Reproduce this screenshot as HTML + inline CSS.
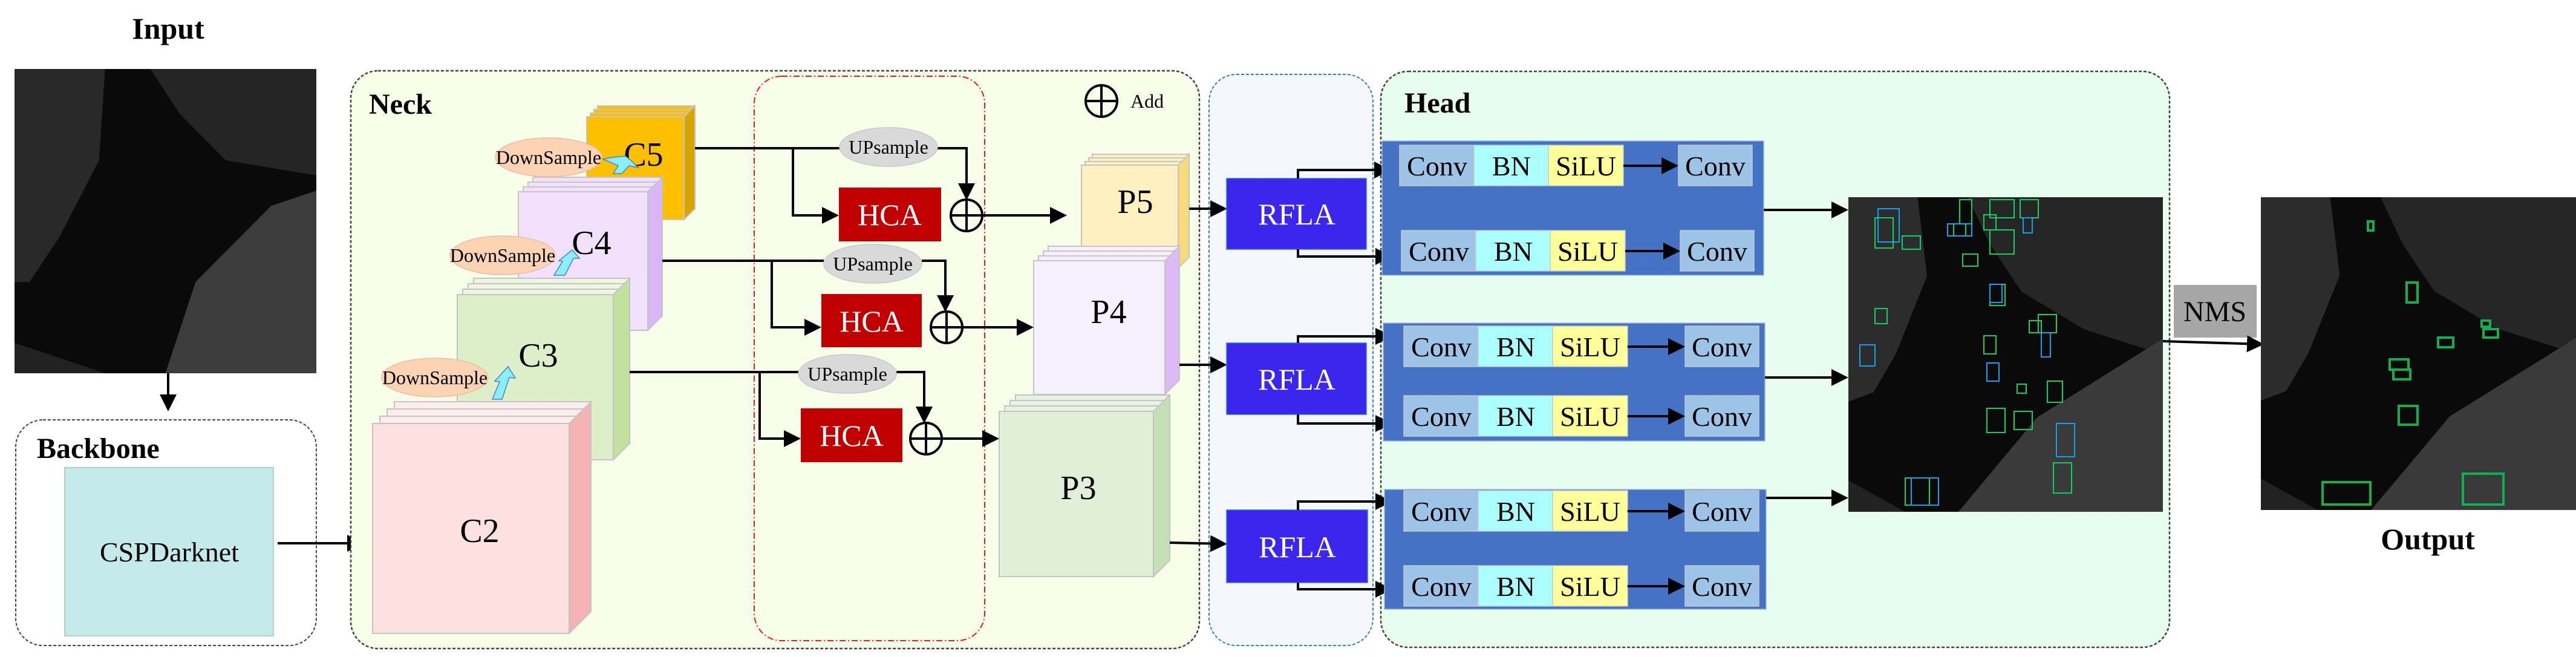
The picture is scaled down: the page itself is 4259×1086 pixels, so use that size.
<!DOCTYPE html>
<html><head><meta charset="utf-8"><style>
html,body{margin:0;padding:0;background:#fff;}
svg{display:block;}
text{font-family:"Liberation Serif",serif;}
</style></head><body>
<svg width="4259" height="1086" viewBox="0 0 4259 1086" xmlns="http://www.w3.org/2000/svg">
<defs>
<marker id="ah" markerWidth="7" markerHeight="7" refX="6" refY="3.5" orient="auto" markerUnits="strokeWidth">
<path d="M0,0 L7,3.5 L0,7 Z" fill="#000"/></marker>
<filter id="spk" x="0" y="0" width="1" height="1">
<feTurbulence type="fractalNoise" baseFrequency="0.35" numOctaves="1" seed="3" result="n"/>
<feColorMatrix in="n" type="matrix" values="0 0 0 0 0.85  0 0 0 0 0.85  0 0 0 0 0.85  3 3 3 0 -4.6" result="s"/>
<feComposite in="s" in2="SourceGraphic" operator="in" result="c"/>
<feMerge><feMergeNode in="SourceGraphic"/><feMergeNode in="c"/></feMerge>
</filter>
<g id="scene">
<rect x="0" y="0" width="1" height="1" fill="#0a0a0a"/>
<polygon points="0,0 0.22,0 0.25,0.25 0.15,0.5 0.08,0.62 0,0.65" fill="#2c2c2c"/>
<polygon points="0.38,0 1,0 1,0.5 0.75,0.42 0.55,0.3 0.45,0.15" fill="#262626"/>
<polygon points="0.35,1 0.6,0.7 1,0.45 1,1" fill="#3a3a3a"/>
<polygon points="0,0.9 0.18,1 0,1" fill="#222"/>
</g>
</defs>

<!-- Input -->
<text x="278" y="64" font-size="50" font-weight="bold" text-anchor="middle">Input</text>
<g transform="translate(24,114) scale(499,503)">
<rect width="1" height="1" fill="#0a0a0a"/>
<polygon points="0,0 0.3,0 0.28,0.3 0.15,0.55 0.05,0.7 0,0.7" fill="#292929"/>
<polygon points="0.45,0 1,0 1,0.35 0.7,0.3 0.55,0.15" fill="#252525"/>
<polygon points="0.5,1 0.6,0.7 0.85,0.45 1,0.4 1,1" fill="#3c3c3c"/>
<polygon points="0,0.9 0.3,1 0,1" fill="#222"/>
</g>
<line x1="278" y1="617" x2="278" y2="676" stroke="#000" stroke-width="4" marker-end="url(#ah)"/>

<!-- Backbone -->
<rect x="26" y="694" width="497" height="373" rx="45" fill="#fff" stroke="#444" stroke-width="2" stroke-dasharray="5,3"/>
<text x="61" y="757" font-size="48" font-weight="bold">Backbone</text>
<rect x="107" y="773" width="345" height="278" fill="#c5eaea" stroke="#b0d0d0" stroke-width="2"/>
<text x="280" y="928" font-size="46" text-anchor="middle">CSPDarknet</text>
<line x1="459" y1="898" x2="598" y2="898" stroke="#000" stroke-width="4" marker-end="url(#ah)"/>

<!-- Neck -->
<rect x="580" y="117" width="1403" height="955" rx="45" fill="#f8fdea" stroke="#444" stroke-width="2.5" stroke-dasharray="5,3"/>
<text x="610" y="188" font-size="48" font-weight="bold">Neck</text>
<rect x="1247" y="126" width="381" height="933" rx="45" fill="none" stroke="#e02020" stroke-width="2" stroke-dasharray="10,4,2,4"/>
<circle cx="1821" cy="167" r="26" fill="none" stroke="#000" stroke-width="4"/>
<line x1="1795" y1="167" x2="1847" y2="167" stroke="#000" stroke-width="4"/>
<line x1="1821" y1="141" x2="1821" y2="193" stroke="#000" stroke-width="4"/>
<text x="1869" y="178" font-size="32">Add</text>

<!-- RFLA region -->
<rect x="1999" y="123" width="271" height="944" rx="45" fill="#f5f6fe" stroke="#3080d0" stroke-width="2" stroke-dasharray="5,3"/>
<!-- Head -->
<rect x="2283" y="118" width="1304" height="952" rx="45" fill="#e8fdee" stroke="#444" stroke-width="2.5" stroke-dasharray="5,3"/>
<text x="2322" y="186" font-size="48" font-weight="bold">Head</text>

<!-- stacks -->
<g stroke="#c4c4c4" stroke-width="2">
<rect x="988" y="175" width="161" height="170" fill="#fdc000"/><rect x="982" y="181" width="161" height="170" fill="#fdc000"/><rect x="976" y="187" width="161" height="170" fill="#fdc000"/>
<polygon points="1131,193 1149,175 1149,345 1131,363" fill="#d9a300"/>
<rect x="970" y="193" width="161" height="170" fill="#fdc000"/>
<rect x="881" y="293" width="214" height="229" fill="#f1e1fd"/><rect x="873" y="301" width="214" height="229" fill="#f1e1fd"/><rect x="865" y="309" width="214" height="229" fill="#f1e1fd"/>
<polygon points="1071,317 1095,293 1095,522 1071,546" fill="#dab6f6"/>
<rect x="857" y="317" width="214" height="229" fill="#f1e1fd"/>
<rect x="783" y="460" width="258" height="273" fill="#ecf6e2"/><rect x="774" y="469" width="258" height="273" fill="#ecf6e2"/><rect x="765" y="478" width="258" height="273" fill="#ecf6e2"/>
<polygon points="1014,487 1041,460 1041,733 1014,760" fill="#c3e19d"/>
<rect x="756" y="487" width="258" height="273" fill="#ddefc8"/>
<rect x="652" y="664" width="325" height="347" fill="#fdecec"/><rect x="640" y="676" width="325" height="347" fill="#fdecec"/><rect x="628" y="688" width="325" height="347" fill="#fdecec"/>
<polygon points="941,700 977,664 977,1011 941,1047" fill="#f4b3b3"/>
<rect x="616" y="700" width="325" height="347" fill="#fde1e1"/>
<rect x="1806" y="255" width="160" height="170" fill="#fff0c1"/><rect x="1800" y="261" width="160" height="170" fill="#fff0c1"/><rect x="1794" y="267" width="160" height="170" fill="#fff0c1"/>
<polygon points="1948,273 1966,255 1966,425 1948,443" fill="#fbd87a"/>
<rect x="1788" y="273" width="160" height="170" fill="#fff0c1"/>
<rect x="1733" y="407" width="217" height="221" fill="#f6effd"/><rect x="1725" y="415" width="217" height="221" fill="#f6effd"/><rect x="1717" y="423" width="217" height="221" fill="#f6effd"/>
<polygon points="1926,431 1950,407 1950,628 1926,652" fill="#dcbaf6"/>
<rect x="1709" y="431" width="217" height="221" fill="#f6effd"/>
<rect x="1679" y="653" width="255" height="273" fill="#e8f2e0"/><rect x="1670" y="662" width="255" height="273" fill="#e8f2e0"/><rect x="1661" y="671" width="255" height="273" fill="#e8f2e0"/>
<polygon points="1907,680 1934,653 1934,926 1907,953" fill="#c5e0b4"/>
<rect x="1652" y="680" width="255" height="273" fill="#e2efd8"/>
</g>
<g font-size="56" text-anchor="middle">
<text x="1064" y="274">C5</text><text x="978" y="420">C4</text><text x="890" y="606">C3</text><text x="793" y="896">C2</text>
<text x="1877" y="352">P5</text><text x="1833" y="534">P4</text><text x="1783" y="825">P3</text>
</g>

<g fill="#fad4b4" stroke="#e8c0a0" stroke-width="1.5">
<ellipse cx="907" cy="260" rx="88" ry="32"/><ellipse cx="831" cy="422" rx="87" ry="32"/><ellipse cx="719" cy="624" rx="88" ry="32"/>
</g>
<g font-size="32" text-anchor="middle">
<text x="907" y="271">DownSample</text><text x="831" y="433">DownSample</text><text x="719" y="635">DownSample</text>
</g>
<g fill="#88f0fc" stroke="#5080c0" stroke-width="1.5">
<polygon points="997,263 1013,260 1034,258 1043,265 1055,277 1040,274 1028,287 1014,287 1022,274"/>
<polygon points="916,455 930,432 924,431 946,413 958,427 948,427 934,455"/>
<polygon points="814,660 826,631 818,630 840,606 852,625 842,624 830,660"/>
</g>

<g stroke="#000" stroke-width="4" fill="none">
<polyline points="1149,245 1388,245"/>
<polyline points="1550,245 1598,245 1598,327" marker-end="url(#ah)"/>
<polyline points="1311,245 1311,356 1383,356" marker-end="url(#ah)"/>
<line x1="1625" y1="356" x2="1760" y2="356" marker-end="url(#ah)"/>
<polyline points="1095,431 1362,431"/>
<polyline points="1524,431 1563,431 1563,512" marker-end="url(#ah)"/>
<polyline points="1276,431 1276,541 1354,541" marker-end="url(#ah)"/>
<line x1="1592" y1="541" x2="1705" y2="541" marker-end="url(#ah)"/>
<polyline points="1041,615 1320,615"/>
<polyline points="1482,615 1528,615 1528,696" marker-end="url(#ah)"/>
<polyline points="1256,615 1256,725 1320,725" marker-end="url(#ah)"/>
<line x1="1558" y1="725" x2="1648" y2="725" marker-end="url(#ah)"/>
<line x1="1966" y1="345" x2="2025" y2="345" marker-end="url(#ah)"/>
<line x1="1950" y1="603" x2="2025" y2="603" marker-end="url(#ah)"/>
<line x1="1934" y1="897" x2="2025" y2="899" marker-end="url(#ah)"/>
</g>
<g fill="#d9d9d9" stroke="#c8c8c8" stroke-width="1.5">
<ellipse cx="1469" cy="243" rx="81" ry="32"/><ellipse cx="1443" cy="436" rx="81" ry="32"/><ellipse cx="1401" cy="618" rx="81" ry="32"/>
</g>
<g font-size="32" text-anchor="middle">
<text x="1469" y="254">UPsample</text><text x="1443" y="447">UPsample</text><text x="1401" y="629">UPsample</text>
</g>
<g fill="#c00000">
<rect x="1387" y="310" width="169" height="89"/><rect x="1358" y="486" width="166" height="88"/><rect x="1324" y="675" width="168" height="89"/>
</g>
<g font-size="50" fill="#fff" text-anchor="middle">
<text x="1471" y="372">HCA</text><text x="1441" y="548">HCA</text><text x="1408" y="737">HCA</text>
</g>
<g stroke="#000" stroke-width="4" fill="none">
<circle cx="1598" cy="356" r="26"/><line x1="1572" y1="356" x2="1624" y2="356"/><line x1="1598" y1="330" x2="1598" y2="382"/>
<circle cx="1565" cy="541" r="26"/><line x1="1539" y1="541" x2="1591" y2="541"/><line x1="1565" y1="515" x2="1565" y2="567"/>
<circle cx="1531" cy="725" r="26"/><line x1="1505" y1="725" x2="1557" y2="725"/><line x1="1531" y1="699" x2="1531" y2="751"/>
</g>

<g fill="#3c26ee" stroke="#2a70d0" stroke-width="1.5">
<rect x="2028" y="295" width="231" height="117"/><rect x="2028" y="567" width="231" height="118"/><rect x="2028" y="843" width="233" height="120"/>
</g>
<g font-size="50" fill="#fff" text-anchor="middle">
<text x="2144" y="371">RFLA</text><text x="2144" y="644">RFLA</text><text x="2145" y="921">RFLA</text>
</g>
<g stroke="#000" stroke-width="4" fill="none">
<polyline points="2146,295 2146,281 2296,281" marker-end="url(#ah)"/>
<polyline points="2146,412 2146,424 2298,424" marker-end="url(#ah)"/>
<polyline points="2146,567 2146,556 2298,556" marker-end="url(#ah)"/>
<polyline points="2146,685 2146,700 2298,700" marker-end="url(#ah)"/>
<polyline points="2146,843 2146,829 2298,829" marker-end="url(#ah)"/>
<polyline points="2146,963 2146,974 2298,974" marker-end="url(#ah)"/>
</g>

<g fill="#4472c4" stroke="#a0b8e0" stroke-width="1.5">
<rect x="2285" y="233" width="631" height="222"/><rect x="2287" y="534" width="631" height="195"/><rect x="2289" y="809" width="631" height="198"/>
</g>
<g stroke="#c8c8c8" stroke-width="1.5">
<rect x="2314" y="240" width="123" height="67" fill="#9dc3e6"/><rect x="2437" y="240" width="123" height="67" fill="#aaffff"/><rect x="2560" y="240" width="124" height="67" fill="#ffff99"/><rect x="2775" y="240" width="122" height="67" fill="#9dc3e6"/>
<rect x="2317" y="381" width="123" height="67" fill="#9dc3e6"/><rect x="2440" y="381" width="123" height="67" fill="#aaffff"/><rect x="2563" y="381" width="124" height="67" fill="#ffff99"/><rect x="2778" y="381" width="122" height="67" fill="#9dc3e6"/>
<rect x="2321" y="539" width="123" height="67" fill="#9dc3e6"/><rect x="2444" y="539" width="123" height="67" fill="#aaffff"/><rect x="2567" y="539" width="124" height="67" fill="#ffff99"/><rect x="2786" y="539" width="122" height="67" fill="#9dc3e6"/>
<rect x="2321" y="654" width="123" height="67" fill="#9dc3e6"/><rect x="2444" y="654" width="123" height="67" fill="#aaffff"/><rect x="2567" y="654" width="124" height="67" fill="#ffff99"/><rect x="2786" y="654" width="122" height="67" fill="#9dc3e6"/>
<rect x="2321" y="811" width="123" height="67" fill="#9dc3e6"/><rect x="2444" y="811" width="123" height="67" fill="#aaffff"/><rect x="2567" y="811" width="124" height="67" fill="#ffff99"/><rect x="2786" y="811" width="122" height="67" fill="#9dc3e6"/>
<rect x="2321" y="935" width="123" height="67" fill="#9dc3e6"/><rect x="2444" y="935" width="123" height="67" fill="#aaffff"/><rect x="2567" y="935" width="124" height="67" fill="#ffff99"/><rect x="2786" y="935" width="122" height="67" fill="#9dc3e6"/>
</g>
<g font-size="46" text-anchor="middle">
<text x="2376" y="290">Conv</text><text x="2499" y="290">BN</text><text x="2622" y="290">SiLU</text><text x="2836" y="290">Conv</text>
<text x="2379" y="431">Conv</text><text x="2502" y="431">BN</text><text x="2625" y="431">SiLU</text><text x="2839" y="431">Conv</text>
<text x="2383" y="589">Conv</text><text x="2506" y="589">BN</text><text x="2629" y="589">SiLU</text><text x="2847" y="589">Conv</text>
<text x="2383" y="704">Conv</text><text x="2506" y="704">BN</text><text x="2629" y="704">SiLU</text><text x="2847" y="704">Conv</text>
<text x="2383" y="861">Conv</text><text x="2506" y="861">BN</text><text x="2629" y="861">SiLU</text><text x="2847" y="861">Conv</text>
<text x="2383" y="985">Conv</text><text x="2506" y="985">BN</text><text x="2629" y="985">SiLU</text><text x="2847" y="985">Conv</text>
</g>
<g stroke="#000" stroke-width="4" fill="none">
<line x1="2684" y1="274" x2="2771" y2="274" marker-end="url(#ah)"/>
<line x1="2687" y1="415" x2="2774" y2="415" marker-end="url(#ah)"/>
<line x1="2691" y1="573" x2="2782" y2="573" marker-end="url(#ah)"/>
<line x1="2691" y1="688" x2="2782" y2="688" marker-end="url(#ah)"/>
<line x1="2691" y1="845" x2="2782" y2="845" marker-end="url(#ah)"/>
<line x1="2691" y1="969" x2="2782" y2="969" marker-end="url(#ah)"/>
<line x1="2916" y1="347" x2="3052" y2="347" marker-end="url(#ah)"/>
<line x1="2918" y1="624" x2="3052" y2="624" marker-end="url(#ah)"/>
<line x1="2920" y1="823" x2="3052" y2="823" marker-end="url(#ah)"/>
</g>

<!-- detection image -->
<g transform="translate(3056,326) scale(520,520)"><use href="#scene"/></g>
<g fill="none" stroke-width="2">
<g stroke="#10d060">
<rect x="3100" y="360" width="30" height="50"/><rect x="3145" y="390" width="30" height="22"/><rect x="3240" y="330" width="20" height="40"/>
<rect x="3290" y="330" width="40" height="30"/><rect x="3340" y="330" width="30" height="30"/><rect x="3280" y="355" width="20" height="25"/>
<rect x="3290" y="380" width="40" height="40"/><rect x="3290" y="470" width="25" height="35"/><rect x="3100" y="510" width="20" height="25"/>
<rect x="3370" y="520" width="30" height="30"/><rect x="3355" y="530" width="20" height="20"/><rect x="3280" y="555" width="20" height="30"/>
<rect x="3335" y="635" width="15" height="15"/><rect x="3285" y="675" width="30" height="40"/><rect x="3330" y="680" width="30" height="30"/>
<rect x="3385" y="630" width="25" height="35"/><rect x="3150" y="790" width="40" height="45"/><rect x="3395" y="765" width="30" height="50"/>
<rect x="3230" y="370" width="20" height="20"/><rect x="3245" y="420" width="25" height="20"/>
</g>
<g stroke="#10a0f0">
<rect x="3105" y="345" width="35" height="55"/><rect x="3220" y="370" width="40" height="20"/><rect x="3290" y="470" width="20" height="30"/>
<rect x="3075" y="570" width="25" height="35"/><rect x="3375" y="550" width="15" height="40"/><rect x="3160" y="790" width="45" height="45"/>
<rect x="3400" y="700" width="30" height="55"/><rect x="3285" y="600" width="20" height="30"/><rect x="3345" y="360" width="15" height="25"/>
</g>
</g>

<rect x="3594" y="471" width="137" height="87" fill="#a6a6a6"/>
<text x="3662" y="531" font-size="48" text-anchor="middle">NMS</text>
<line x1="3576" y1="564" x2="3739" y2="569" stroke="#000" stroke-width="4" marker-end="url(#ah)"/>

<g transform="translate(3738,326) scale(521,517)"><use href="#scene"/></g>
<g fill="none" stroke="#10b050" stroke-width="4">
<rect x="3915" y="366" width="9" height="15"/><rect x="3979" y="467" width="18" height="33"/><rect x="4103" y="530" width="14" height="10"/>
<rect x="4106" y="544" width="24" height="14"/><rect x="4031" y="558" width="25" height="16"/><rect x="3951" y="594" width="31" height="17"/>
<rect x="3957" y="611" width="28" height="16"/><rect x="3966" y="671" width="31" height="31"/><rect x="3840" y="797" width="79" height="37"/>
<rect x="4072" y="783" width="67" height="51"/>
</g>
<text x="4014" y="908" font-size="50" font-weight="bold" text-anchor="middle">Output</text>
</svg>
</body></html>
